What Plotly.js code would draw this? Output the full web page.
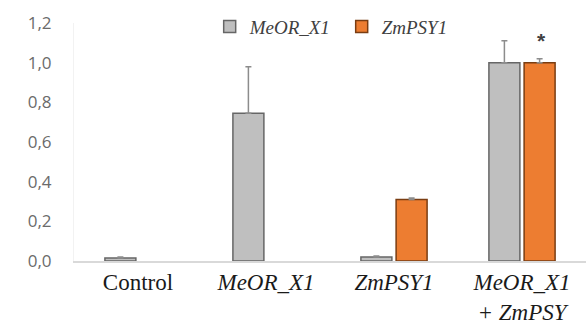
<!DOCTYPE html>
<html>
<head>
<meta charset="utf-8">
<script src="https://cdn.plot.ly/plotly-3.0.1.min.js"></script>
<style>html,body{margin:0;padding:0;background:#fff;}#chart{width:588px;height:326px;}</style>
</head>
<body>
<div id="chart"></div>
<script>
const categories = ["Control", "MeOR_X1", "ZmPSY1", "MeOR_X1 + ZmPSY1"];
const tickLabels = ["Control", "<i>MeOR_X1</i>", "<i>ZmPSY1</i>", "<i>MeOR_X1</i><br><i>+ ZmPSY</i>"];
const meorValues = [0.015, 0.745, 0.02, 1.0];
const meorErrors = [0.005, 0.235, 0.005, 0.11];
const zmpsyValues = [null, null, 0.31, 1.0];
const zmpsyErrors = [0, 0, 0.008, 0.02];
const seriesNames = ["MeOR_X1", "ZmPSY1"];
const yTicks = [0, 0.2, 0.4, 0.6, 0.8, 1.0, 1.2];

const serif = "Liberation Serif";

const traces = [
  {
    type: "bar", name: "<i>" + seriesNames[0] + "</i>", x: categories, y: meorValues,
    marker: {color: "#bfbfbf", line: {color: "#666666", width: 1.5}},
    error_y: {type: "data", symmetric: false, array: meorErrors, arrayminus: meorErrors.map(() => 0),
              color: "#8c8c8c", thickness: 1.5, width: 3}
  },
  {
    type: "bar", name: "<i>" + seriesNames[1] + "</i>", x: categories, y: zmpsyValues,
    marker: {color: "#ed7d31", line: {color: "#7a3d12", width: 1.5}},
    error_y: {type: "data", symmetric: false, array: zmpsyErrors, arrayminus: zmpsyErrors.map(() => 0),
              color: "#8c8c8c", thickness: 1.5, width: 3}
  }
];

const layout = {
  width: 588, height: 326,
  margin: {l: 74, r: 2, t: 23, b: 65, pad: 0},
  paper_bgcolor: "#ffffff", plot_bgcolor: "#ffffff",
  separators: ",.",
  barmode: "group", bargap: 0.45, bargroupgap: 0.12,
  showlegend: true,
  legend: {orientation: "h", x: 0.265, xanchor: "left", y: 0.985, yanchor: "middle",
           font: {family: serif, size: 19, color: "#404040"},
           itemwidth: 30, entrywidth: 87, bgcolor: "rgba(0,0,0,0)"},
  xaxis: {
    type: "category", tickvals: categories, ticktext: tickLabels,
    showline: true, linecolor: "#d9d9d9", linewidth: 1.5,
    showgrid: false, zeroline: false, ticks: "",
    tickfont: {family: serif, size: 23, color: "#1a1a1a"},
    ticklabelstandoff: 0, automargin: false
  },
  yaxis: {
    range: [0, 1.2], tickvals: yTicks, tickformat: ".1f",
    showgrid: false, zeroline: false, showline: true, linecolor: "#f2f2f2", linewidth: 1,
    ticks: "", tickfont: {family: "Open Sans", size: 17, color: "#6b6b6b"},
    ticklabelstandoff: 18, automargin: false
  },
  annotations: [{
    x: categories[3], y: 1.11, xref: "x", yref: "y", xshift: 19,
    text: "<b>*</b>", showarrow: false, yanchor: "middle",
    font: {family: "Liberation Sans", size: 21, color: "#404040"}
  }]
};

Plotly.newPlot("chart", traces, layout, {displayModeBar: false, staticPlot: true});
</script>
</body>
</html>
